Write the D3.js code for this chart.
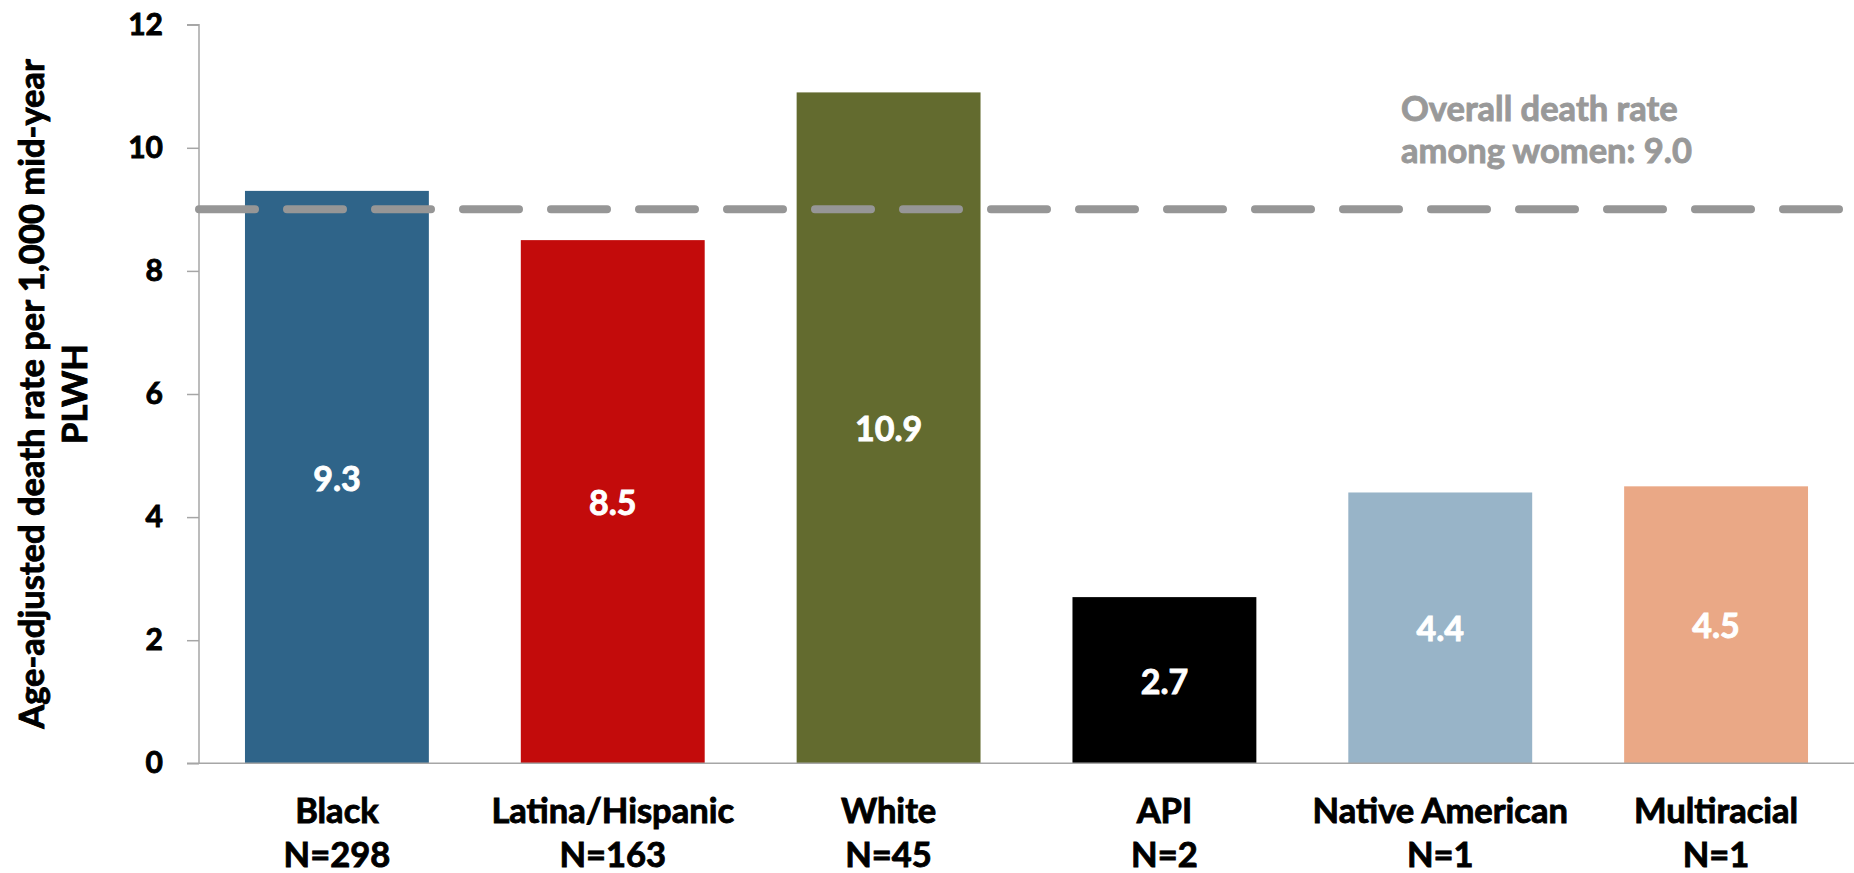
<!DOCTYPE html>
<html>
<head>
<meta charset="utf-8">
<script src="https://cdn.jsdelivr.net/npm/d3@7"></script>
<style>
  html, body { margin: 0; padding: 0; background: #fff; }
  svg { display: block; }
  text { font-family: Lato, "Open Sans", sans-serif; font-weight: 700; }
</style>
</head>
<body>
<svg id="chart" width="1854" height="873"></svg>
<script>
// ---- data ----
const categories = ["Black", "Latina/Hispanic", "White", "API", "Native American", "Multiracial"];
const counts = ["N=298", "N=163", "N=45", "N=2", "N=1", "N=1"];
const values = [9.3, 8.5, 10.9, 2.7, 4.4, 4.5];
const colors = ["#2F6489", "#C30B0B", "#636B2F", "#000000", "#98B4C8", "#EAA886"];
const yTicks = [0, 2, 4, 6, 8, 10, 12];
const overallRate = 9.0;
const overallLabel = ["Overall death rate", "among women: 9.0"];
const yTitle = ["Age-adjusted death rate per 1,000 mid-year", "PLWH"];

// ---- layout ----
const svg = d3.select("#chart");
const plotLeft = 199, plotRight = 1854, plotTop = 24.7, plotBottom = 763.3;
const thick = 0.9;

const x = d3.scaleBand().domain(categories).range([plotLeft, plotRight])
  .paddingInner(1/3).paddingOuter(1/6);
const y = d3.scaleLinear().domain([0, 12]).range([plotBottom, plotTop]);

// bars
svg.append("g").selectAll("rect").data(values).join("rect")
  .attr("x", (d, i) => x(categories[i]))
  .attr("y", d => y(d))
  .attr("width", x.bandwidth())
  .attr("height", d => y(0) - y(d))
  .attr("fill", (d, i) => colors[i]);

// value labels
svg.append("g").selectAll("text").data(values).join("text")
  .attr("x", (d, i) => x(categories[i]) + x.bandwidth() / 2)
  .attr("y", d => (y(d) + y(0)) / 2)
  .attr("text-anchor", "middle")
  .attr("dominant-baseline", "central")
  .attr("fill", "#fff").attr("stroke", "#fff").attr("stroke-width", thick)
  .style("font-size", "34px")
  .text(d => d.toFixed(1));

// y axis
const yAxis = d3.axisLeft(y).tickValues(yTicks).tickSize(12).tickPadding(24).tickFormat(d3.format("d"));
const gy = svg.append("g").attr("transform", `translate(${plotLeft},0)`).call(yAxis);
gy.select(".domain").attr("stroke", "#a6a6a6").attr("stroke-width", 1.5)
  .attr("d", `M-12,${plotTop}H0V${plotBottom}`);
gy.selectAll(".tick line").attr("stroke", "#a6a6a6").attr("stroke-width", 1.5);
gy.selectAll(".tick text").attr("fill", "#000").attr("stroke", "#000").attr("stroke-width", thick)
  .style("font-size", "30px")
  .style("font-family", "Lato, sans-serif").style("font-weight", 700);

// x axis line
svg.append("line")
  .attr("x1", plotLeft - 12).attr("x2", plotRight)
  .attr("y1", y(0)).attr("y2", y(0))
  .attr("stroke", "#a6a6a6").attr("stroke-width", 1.5);

// category labels
const catG = svg.append("g").selectAll("text").data(categories).join("text")
  .attr("x", d => x(d) + x.bandwidth() / 2)
  .attr("y", 823)
  .attr("text-anchor", "middle")
  .attr("fill", "#000").attr("stroke", "#000").attr("stroke-width", thick)
  .style("font-size", "34.5px");
catG.append("tspan").attr("x", d => x(d) + x.bandwidth() / 2).text(d => d);
catG.append("tspan").attr("x", d => x(d) + x.bandwidth() / 2).attr("dy", 44)
  .text((d, i) => counts[i]);

// dashed reference line
svg.append("line")
  .attr("x1", plotLeft).attr("x2", 1850)
  .attr("y1", y(overallRate)).attr("y2", y(overallRate))
  .attr("stroke", "#969696").attr("stroke-width", 8)
  .attr("stroke-linecap", "round")
  .attr("stroke-dasharray", "56,32");

// annotation
const ann = svg.append("text").attr("x", 1401).attr("y", 121)
  .attr("fill", "#999999").attr("stroke", "#999999").attr("stroke-width", thick)
  .style("font-size", "34.5px");
ann.selectAll("tspan").data(overallLabel).join("tspan")
  .attr("x", 1401).attr("dy", (d, i) => i === 0 ? 0 : 42).text(d => d);

// y axis title
const yt = svg.append("text")
  .attr("transform", `translate(44,394) rotate(-90)`)
  .attr("text-anchor", "middle").attr("fill", "#000").attr("stroke", "#000").attr("stroke-width", thick)
  .style("font-size", "34.5px");
yt.selectAll("tspan").data(yTitle).join("tspan")
  .attr("x", 0).attr("dy", (d, i) => i === 0 ? 0 : 43).text(d => d);
</script>
</body>
</html>
